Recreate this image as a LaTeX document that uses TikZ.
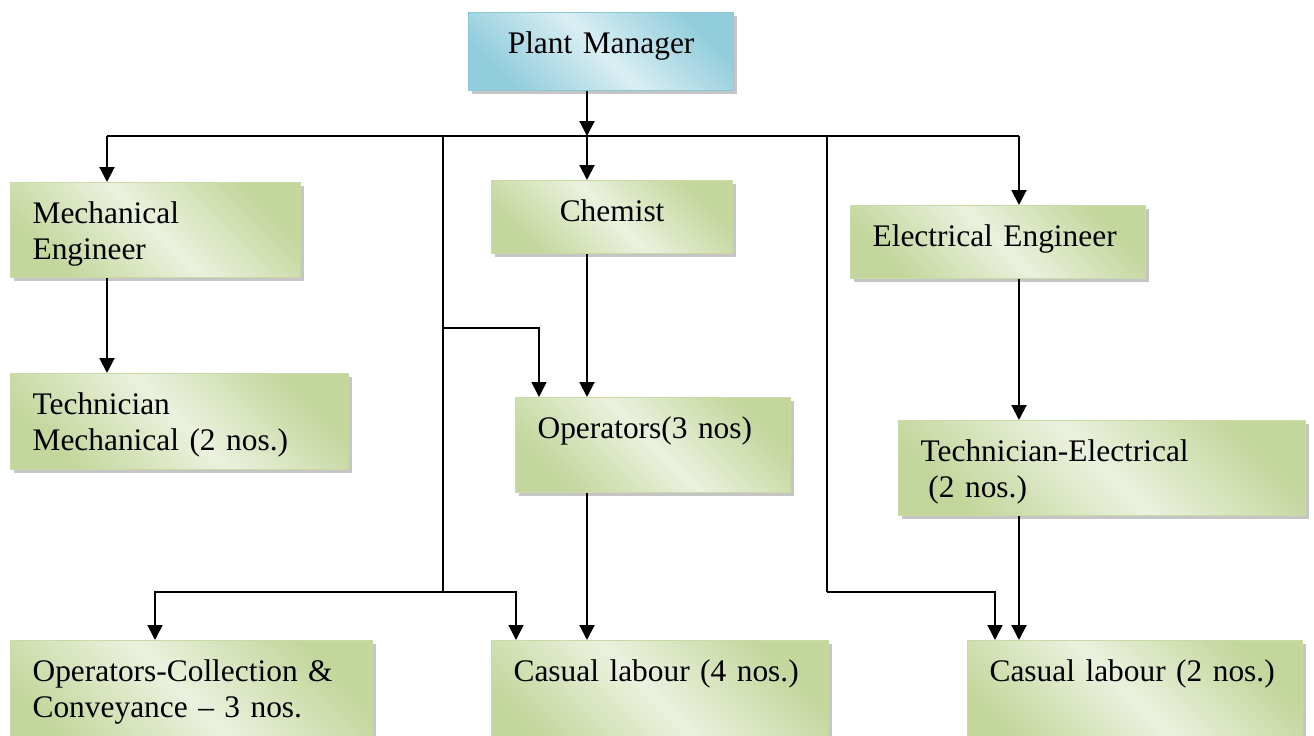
\documentclass[tikz,border=0pt]{standalone}
\usepackage{fontspec}
\setmainfont{Liberation Serif}
\usepackage{tikz}
\usetikzlibrary{arrows.meta,shadows}
\definecolor{gdark}{HTML}{C3D69B}
\definecolor{glight}{HTML}{EBF1DE}
\definecolor{gline}{HTML}{C9DAA6}
\definecolor{bdark}{HTML}{92CDDC}
\definecolor{blight}{HTML}{DAEEF3}
\definecolor{bline}{HTML}{8CC7D6}

\begin{document}
\begin{tikzpicture}[
        x=0.5pt,y=-0.5pt,
        box/.style={
          anchor=north west,
          top color=gdark,
          bottom color=gdark,
          middle color=glight,
          shading angle=-45,
          draw=gline,
          line width=0.6pt,
          drop shadow={shadow xshift=1.5pt,shadow yshift=-1.5pt,fill=black!45},
          font=\fontsize{15.7pt}{18pt}\selectfont,
          align=left,
          inner xsep=11pt,
          inner ysep=0pt,
          text height=20.5pt
          },
        headbox/.style={
          box,
          top color=bdark,
          bottom color=bdark,
          middle color=blight,
          shading angle=-45,
          draw=bline,
          align=center
          },
        link/.style={line width=1pt},
        trunk/.style={line width=0.8pt},
        >={Triangle[width=7.5pt,length=7.5pt]}
        ]
        \useasboundingbox (0,0) rectangle (1314,735);

        \node[headbox, text width=110.5pt, text depth=18.5pt] (pm) at (468,12) {Plant Manager};
        \node[box, text width=123pt, text depth=27pt] (mech) at (10,182) {Mechanical\\Engineer};
        \node[box, align=center, text width=98.5pt, text depth=16pt] (chem) at (491,180) {Chemist};
        \node[box, text width=125.5pt, text depth=16pt] (elec) at (850,205) {Electrical Engineer};
        \node[box, text width=147pt, text depth=27.5pt] (techm) at (10,373) {Technician\\Mechanical (2 nos.)};
        \node[box, text width=115.5pt, text depth=27pt] (oper) at (515,397) {Operators(3 nos)};
        \node[box, text width=181.5pt, text depth=27pt] (teche) at (898,420) {Technician-Electrical\\\hspace*{0.25em}(2 nos.)};
        \node[box, text width=159pt, text depth=40pt] (opcoll) at (10,640) {Operators-Collection \&\\Conveyance – 3 nos.};
        \node[box, text width=146.5pt, text depth=40pt] (cas4) at (491,640) {Casual labour (4 nos.)};
        \node[box, text width=145.5pt, text depth=40pt] (cas2) at (967,640) {Casual labour (2 nos.)};

        \coordinate (hub) at (587,136);
        \coordinate (lcol) at (107,136);
        \coordinate (rcol) at (1019,136);
        \coordinate (ltrunk) at (443,136);
        \coordinate (rtrunk) at (827,136);
        \coordinate (lknee) at (443,328);
        \coordinate (lfoot) at (443,592);
        \coordinate (rfoot) at (827,592);

        \draw[link,->] (pm.south -| hub) -- (hub);
        \draw[trunk] (lcol) -- (rcol);
        \draw[link,->] (lcol) -- (lcol |- mech.north);
        \draw[link,->] (hub) -- (hub |- chem.north);
        \draw[link,->] (rcol) -- (rcol |- elec.north);
        \draw[link,->] (lcol |- mech.south) -- (lcol |- techm.north);
        \draw[link,->] (hub |- chem.south) -- (hub |- oper.north);
        \draw[link,->] (hub |- oper.south) -- (hub |- cas4.north);
        \draw[link,->] (rcol |- elec.south) -- (rcol |- teche.north);
        \draw[link,->] (rcol |- teche.south) -- (rcol |- cas2.north);
        \draw[trunk] (ltrunk) -- (lfoot);
        \draw[trunk] (rtrunk) -- (rfoot);
        \draw[trunk,->] (lknee) -| ([xshift=12pt]oper.north west);
        \draw[trunk,->] (lfoot) -| ([xshift=72.5pt]opcoll.north west);
        \draw[trunk,->] (lfoot) -| ([xshift=12.5pt]cas4.north west);
        \draw[trunk,->] (rfoot) -| ([xshift=14pt]cas2.north west);
    \end{tikzpicture}
\end{document}
